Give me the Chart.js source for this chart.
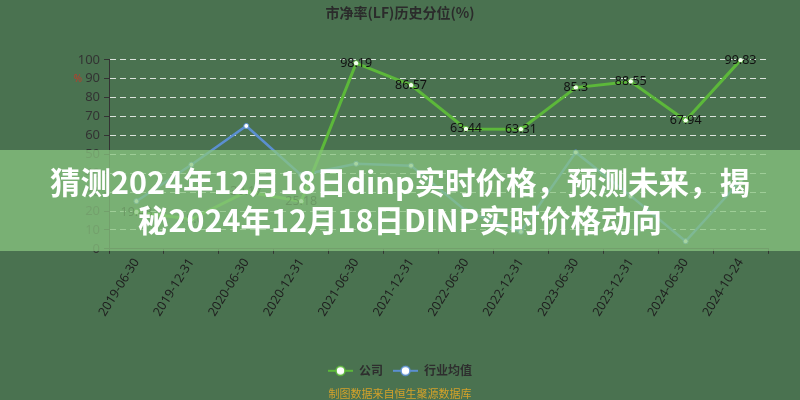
<!DOCTYPE html>
<html><head><meta charset="utf-8">
<script src="https://cdn.jsdelivr.net/npm/chart.js@4"></script>
<style>
html,body{margin:0;padding:0;background:#4a7250;}
#wrap{position:relative;width:800px;height:400px;overflow:hidden;}
#banner{position:absolute;left:0;top:150px;width:800px;height:101px;background:rgba(138,197,128,0.75);color:#fff;font-family:"Noto Sans CJK SC","Noto Sans",sans-serif;font-weight:700;font-size:30.5px;line-height:38px;text-align:center;box-sizing:border-box;padding-top:12px;white-space:nowrap;}
</style></head><body>
<div id="wrap"><canvas id="c" width="800" height="400"></canvas><div id="banner">猜测2024年12月18日dinp实时价格，预测未来，揭<br>秘2024年12月18日DINP实时价格动向</div></div>
<script>
const chartTitle = '市净率(LF)历史分位(%)';
const categories = ['2019-06-30','2019-12-31','2020-06-30','2020-12-31','2021-06-30','2021-12-31','2022-06-30','2022-12-31','2023-06-30','2023-12-31','2024-06-30','2024-10-24'];
const companyName = '公司';
const industryName = '行业均值';
const companyValues = [19.48, 15.6, 30.17, 25.18, 98.19, 86.57, 63.44, 63.31, 85.3, 88.55, 67.94, 99.83];
const industryValues = [25.2, 44.5, 65, 39, 45, 44, 20, 9, 51, 28, 4, 36];
const yMin = 0, yMax = 100, yStep = 10;
const sourceNote = '制图数据来自恒生聚源数据库';
const axisNote = '%';

const GREEN = '#5cb83a', BLUE = '#5b8fd0', BG = '#4a7250';

function makeMarker(color){
  const c = document.createElement('canvas');
  c.width = 25; c.height = 12;
  const g = c.getContext('2d');
  g.strokeStyle = color; g.lineWidth = 2;
  g.beginPath(); g.moveTo(0,6); g.lineTo(25,6); g.stroke();
  g.beginPath(); g.arc(12.5,6,4.5,0,Math.PI*2);
  g.fillStyle = '#fff'; g.fill();
  g.lineWidth = 1.5; g.stroke();
  return c;
}
const markers = [makeMarker(GREEN), makeMarker(BLUE)];

const bgPlugin = {
  id:'bg',
  beforeDraw(chart){
    const ctx = chart.ctx;
    ctx.save(); ctx.fillStyle = BG; ctx.fillRect(0,0,chart.width,chart.height); ctx.restore();
  }
};
const valueLabels = {
  id:'valueLabels',
  afterDatasetsDraw(chart){
    const meta = chart.getDatasetMeta(0);
    const ctx = chart.ctx;
    ctx.save();
    ctx.font = '12.5px "Noto Sans", sans-serif';
    ctx.fillStyle = '#111';
    ctx.textAlign = 'center'; ctx.textBaseline = 'middle';
    meta.data.forEach((pt,i)=>{ ctx.fillText(String(companyValues[i]), pt.x, pt.y); });
    meta.data.forEach(pt=>{ ctx.beginPath(); ctx.arc(pt.x, pt.y, 2, 0, Math.PI*2); ctx.fillStyle = '#f4fff0'; ctx.fill(); });
    const ys = chart.scales.y;
    ctx.font = '10px "Noto Sans", sans-serif';
    ctx.fillStyle = '#c0392b';
    ctx.fillText(axisNote, ys.left + 78, ys.getPixelForValue(90));
    ctx.restore();
  }
};

new Chart(document.getElementById('c'), {
  type:'line',
  data:{
    labels: categories,
    datasets:[
      {label: companyName, data: companyValues, borderColor: GREEN, backgroundColor: GREEN, borderWidth: 3,
       pointRadius: 2.5, pointBackgroundColor:'#fff', pointBorderColor: GREEN, pointBorderWidth: 1, tension: 0},
      {label: industryName, data: industryValues, borderColor: BLUE, backgroundColor: BLUE, borderWidth: 2.5,
       pointRadius: 2.5, pointBackgroundColor:'#fff', pointBorderColor: BLUE, pointBorderWidth: 1, tension: 0}
    ]
  },
  options:{
    responsive:false, animation:false, devicePixelRatio:1,
    layout:{padding:0},
    font:{family:'"Noto Sans","Noto Sans CJK SC",sans-serif'},
    plugins:{
      title:{display:true, text:chartTitle, color:'#2b2b2b', font:{size:14, weight:'bold', family:'"Noto Sans CJK SC",sans-serif'}, padding:{top:4,bottom:39}},
      subtitle:{display:true, position:'bottom', text:sourceNote, color:'#d4a22a', font:{size:11, family:'"Noto Sans CJK SC",sans-serif'}, padding:{top:0,bottom:0}},
      legend:{position:'bottom', labels:{usePointStyle:true, pointStyleWidth:25, color:'#2e2e2e', padding:10,
        font:{size:12, weight:'bold', family:'"Noto Sans CJK SC",sans-serif'},
        generateLabels(chart){ const items = Chart.defaults.plugins.legend.labels.generateLabels(chart); items.forEach((it,i)=>{ it.pointStyle = markers[i]; }); return items; }}},
      tooltip:{enabled:false}
    },
    scales:{
      x:{offset:true,
         grid:{offset:true, drawOnChartArea:false, drawTicks:true, tickLength:5, tickColor:'#333'},
         border:{color:'#333'},
         ticks:{color:'#1f1f1f', font:{size:12.5}, minRotation:58, maxRotation:58, autoSkip:false, padding:2},
         afterFit(s){ s.height = 106; }},
      y:{min:yMin, max:yMax,
         ticks:{stepSize:yStep, color:'#333', font:{size:13}, padding:4},
         grid:{color:'rgba(255,255,255,0.8)', tickColor:'#333', tickLength:5},
         border:{color:'#333', dash:[6,4]},
         afterFit(s){ s.width = 109; }},
      yRight:{position:'right', min:yMin, max:yMax,
         grid:{display:false}, border:{display:false}, ticks:{display:false},
         afterFit(s){ s.width = 32; }}
    }
  },
  plugins:[bgPlugin, valueLabels]
});
</script>
</body></html>
